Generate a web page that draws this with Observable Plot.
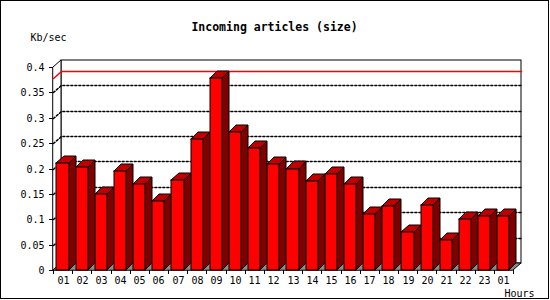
<!DOCTYPE html>
<html><head><meta charset="utf-8">
<script src="https://cdn.jsdelivr.net/npm/d3@7"></script>
<script src="https://cdn.jsdelivr.net/npm/@observablehq/plot@0.6"></script>
<style>
body{margin:0;background:#fff;}
#wrap{position:relative;width:550px;height:300px;overflow:hidden;}
#border{position:absolute;left:0;top:0;width:547px;height:297px;border:1px solid #000;pointer-events:none;}
</style></head><body>
<div id="wrap"><div id="chart"></div><div id="border"></div></div>
<script>
const hours = ["01","02","03","04","05","06","07","08","09","10","11","12","13","14","15","16","17","18","19","20","21","22","23","01"];
const values = [0.210,0.202,0.149,0.196,0.169,0.135,0.177,0.258,0.378,0.271,0.240,0.209,0.200,0.175,0.189,0.169,0.110,0.127,0.074,0.129,0.059,0.100,0.106,0.106];
const yTicks = [0,0.05,0.1,0.15,0.2,0.25,0.3,0.35,0.4];
const yTickLabels = ["0","0.05","0.1","0.15","0.2","0.25","0.3","0.35","0.4"];
const title = "Incoming articles (size)";
const yLabel = "Kb/sec";
const xLabel = "Hours";

const n = values.length;
const DX = 0.4, DY = 0.0138;   // wall depth (data units)
const BX = 0.37, BY = 0.0138;  // bar depth
const OFF = 0.18, W = 0.63;
const bars = values.map((v, i) => ({i, v, xl: i + OFF, xr: i + OFF + W}));
const sides = bars.flatMap(b => [
  {bar: b.i, x: b.xr, y1: 0, y2: b.v},
  {bar: b.i, x: b.xr + BX, y1: BY, y2: b.v + BY}
]);
const tops = bars.flatMap(b => [
  {bar: b.i, y: b.v, x1: b.xl, x2: b.xr},
  {bar: b.i, y: b.v + BY, x1: b.xl + BX, x2: b.xr + BX}
]);
const grid = yTicks.filter(t => t > 0 && t < 0.4).flatMap(t => [
  {g: t, x: 0, y: t}, {g: t, x: DX, y: t + DY}, {g: t, x: n + DX, y: t + DY}
]);
const maxV = d3.max(values);
const maxLine = [{x: 0, y: maxV}, {x: DX, y: maxV + DY}, {x: n + DX, y: maxV + DY}];
const leftWall = [{x: 0, y1: 0, y2: 0.4}, {x: DX, y1: DY, y2: 0.4 + DY}];
const floor = [{y: 0, x1: 0, x2: n}, {y: DY, x1: DX, x2: n + DX}];

const chart = Plot.plot({
  width: 550, height: 300,
  marginLeft: 53, marginRight: 37, marginTop: 67, marginBottom: 30,
  style: {fontFamily: "'DejaVu Sans Mono', monospace", fontSize: "10px", background: "white", color: "black"},
  x: {domain: [0, n], round: true},
  y: {domain: [0, 0.4], round: true},
  marks: [
    Plot.rect([0], {x1: () => DX, x2: () => n + DX, y1: () => DY, y2: () => 0.4 + DY, fill: "white", stroke: "black"}),
    Plot.area(leftWall, {x1: "x", y1: "y1", y2: "y2", fill: "white", stroke: "black"}),
    Plot.area(floor, {x1: "x1", x2: "x2", y1: "y", fill: "#8c8c8c", stroke: "black"}),
    Plot.line(grid, {x: "x", y: "y", z: "g", stroke: "black", strokeDasharray: "2,2"}),
    Plot.line(maxLine, {x: "x", y: "y", stroke: "#ff0000"}),
    Plot.area(sides, {x1: "x", y1: "y1", y2: "y2", z: "bar", fill: "#800000", stroke: "black"}),
    Plot.area(tops, {x1: "x1", x2: "x2", y1: "y", z: "bar", fill: "#c00000", stroke: "black"}),
    Plot.rect(bars, {x1: "xl", x2: "xr", y1: () => 0, y2: "v", fill: "#ff0000", stroke: "black"}),
    Plot.axisY(yTicks, {anchor: "left", tickSize: 4, tickPadding: 5, tickFormat: d => yTickLabels[yTicks.indexOf(d)], fontSize: 10}),
    Plot.axisX(d3.range(n + 1), {anchor: "bottom", tickSize: 4, tickFormat: () => ""}),
    Plot.axisX(d3.range(n).map(i => i + 0.5), {anchor: "bottom", tickSize: 0, tickPadding: 6, tickFormat: d => hours[Math.floor(d)], fontSize: 10}),
    Plot.text([title], {frameAnchor: "top", lineAnchor: "middle", dx: -9, dy: -40, fontWeight: "bold", fontSize: 11.5}),
    Plot.text([yLabel], {frameAnchor: "top-left", textAnchor: "start", lineAnchor: "middle", dx: -23, dy: -29.5, fontSize: 10}),
    Plot.text([xLabel], {frameAnchor: "bottom-right", textAnchor: "start", lineAnchor: "middle", dx: -9, dy: 23, fontSize: 10})
  ]
});
document.getElementById("chart").appendChild(chart);
</script>
</body></html>
